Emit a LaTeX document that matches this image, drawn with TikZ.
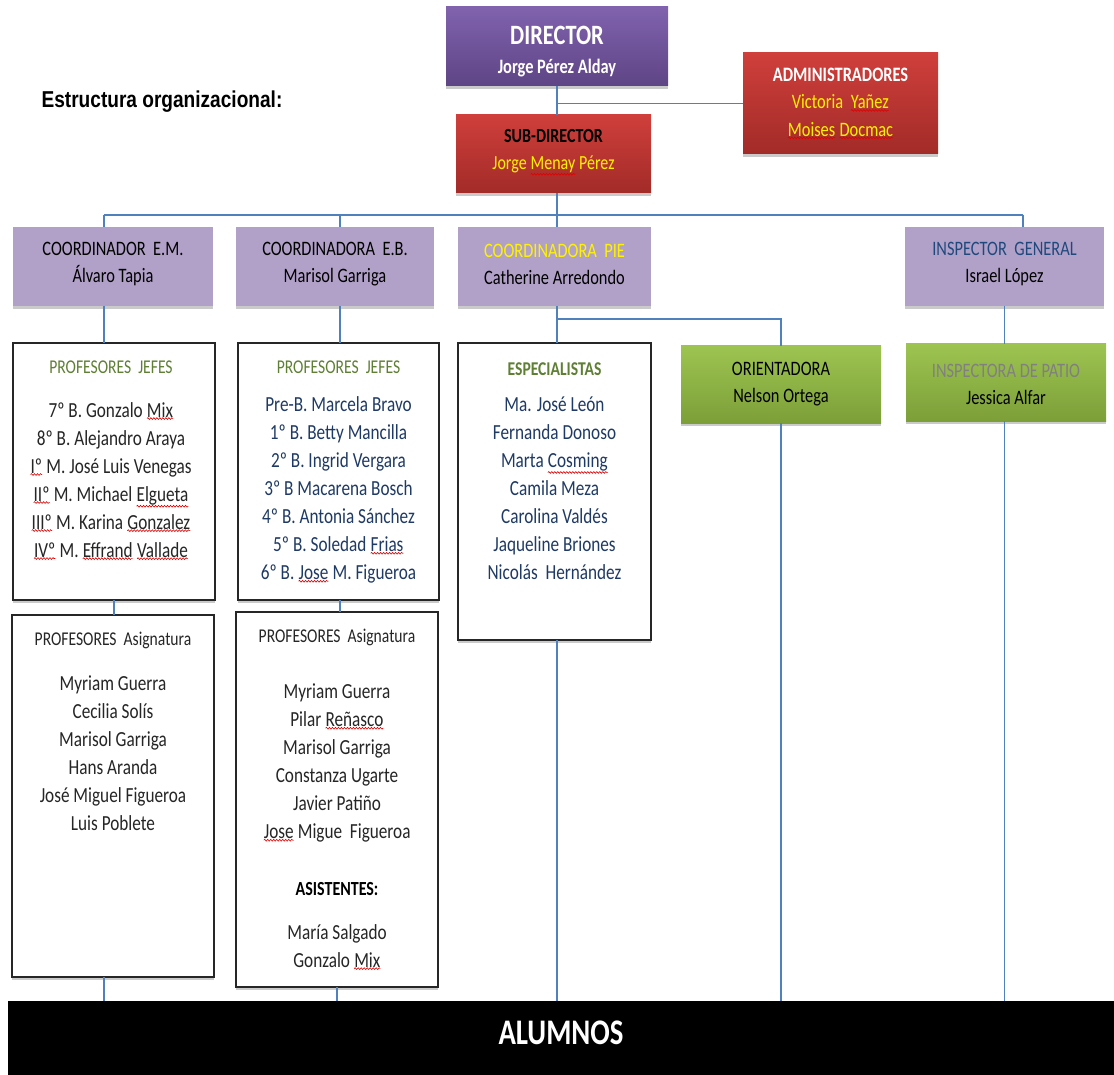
\documentclass[tikz,border=0pt]{standalone}
\usepackage{fontspec}
\setmainfont{Carlito}[FakeStretch=0.8]
\newfontfamily\arialc{Liberation Sans}[FakeStretch=0.83]
\usetikzlibrary{shadows,decorations.pathmorphing}
\definecolor{lineblue}{HTML}{4F81BD}
\definecolor{purpT}{HTML}{8062AE}
\definecolor{purpB}{HTML}{5E4585}
\definecolor{redT}{HTML}{CF3F3B}
\definecolor{redB}{HTML}{A22B28}
\definecolor{lav}{HTML}{B1A1C8}
\definecolor{grnT}{HTML}{9DC451}
\definecolor{grnB}{HTML}{7C9F38}
\definecolor{olive}{HTML}{5F7F34}
\definecolor{navy}{HTML}{1F3A64}
\definecolor{insblue}{HTML}{1F497D}
\definecolor{patgray}{HTML}{808080}
\definecolor{yel}{HTML}{FFF200}
\definecolor{squig}{HTML}{E00000}
\newcommand\sq[1]{\tikz[baseline=(sqw.base)]{\node[inner sep=0pt,outer sep=0pt] (sqw) {#1};
  \draw[squig,line width=0.6pt,decorate,decoration={snake,amplitude=0.9pt,segment length=3pt}] ([yshift=-1.5pt]sqw.south west) -- ([yshift=-1.5pt]sqw.south east);}}
\begin{document}
\begin{tikzpicture}[x=1pt,y=-1pt,
  conn/.style={draw=lineblue,line width=1.1pt},
  shade/.style={drop shadow={shadow xshift=0pt,shadow yshift=-3pt,opacity=0.35,fill=black!60}},
  cbox/.style={rectangle,inner sep=0pt,outer sep=0pt,shade},
  purplebox/.style={cbox,top color=purpT,bottom color=purpB},
  redbox/.style={cbox,top color=redT,bottom color=redB},
  lavbox/.style={cbox,fill=lav},
  greenbox/.style={cbox,top color=grnT,bottom color=grnB},
  listbox/.style={rectangle,inner sep=0pt,outer sep=0pt,draw=black!85,line width=1.3pt,fill=white,shade},
  txt/.style={align=center,inner sep=0pt,font=\fontsize{20.5}{27}\selectfont},
  ltxt/.style={align=center,inner sep=0pt,font=\fontsize{21.5}{28}\selectfont},
  ttl/.style={align=center,inner sep=0pt,font=\fontsize{19.5}{24}\selectfont}
]
\useasboundingbox (0,0) rectangle (1114,1075);

% ---- boxes ----
\node[purplebox,minimum width=222,minimum height=79] (dir) at (557,46.5) {};
\node[redbox,minimum width=195,minimum height=101] (adm) at (840.5,103.5) {};
\node[redbox,minimum width=195,minimum height=78] (sub) at (553.5,154) {};
\node[lavbox,minimum width=200,minimum height=79] (cem) at (113,266.5) {};
\node[lavbox,minimum width=198,minimum height=79] (ceb) at (335,266.5) {};
\node[lavbox,minimum width=193,minimum height=79] (cpie) at (554.5,266.5) {};
\node[lavbox,minimum width=199,minimum height=79] (insp) at (1004.5,266.5) {};
\node[listbox,minimum width=202,minimum height=257] (pjem) at (114,471.5) {};
\node[listbox,minimum width=201,minimum height=257] (pjeb) at (338.5,471.5) {};
\node[listbox,minimum width=202,minimum height=362] (paem) at (113,796) {};
\node[listbox,minimum width=202,minimum height=375] (paeb) at (337,799.5) {};
\node[listbox,minimum width=193,minimum height=297] (esp) at (554.5,491.5) {};
\node[greenbox,minimum width=200,minimum height=77] (ori) at (781,384.5) {};
\node[greenbox,minimum width=200,minimum height=77] (pat) at (1006,382.5) {};
\node[rectangle,inner sep=0pt,outer sep=0pt,fill=black,minimum width=1106,minimum height=74] (alum) at (561,1038) {};

% ---- connectors ----
\coordinate (busL) at (104,215);
\coordinate (busR) at (1023,215);
\coordinate (bEB) at (340,215);
\coordinate (br) at (556,319);
\draw[conn] (dir.south) -- (dir.south |- sub.north);
\draw[conn] (adm.west) -- (adm.west -| dir.south);
\draw[conn] (dir.south |- sub.south) -- (dir.south |- busL);
\draw[conn] (busL) -- (busR);
\draw[conn] (busL) -- (busL |- cem.north);
\draw[conn] (bEB) -- (bEB |- ceb.north);
\draw[conn] (dir.south |- busL) -- (dir.south |- cpie.north);
\draw[conn] (busR) -- (busR |- insp.north);
\draw[conn] (busL |- cem.south) -- (busL |- pjem.north);
\draw[conn] (bEB |- ceb.south) -- (bEB |- pjeb.north);
\draw[conn] (dir.south |- cpie.south) -- (dir.south |- esp.north);
\draw[conn] (br) -| (ori.north);
\draw[conn] (insp.south) -- (insp.south |- pat.north);
\draw[conn] (pjem.south) -- (pjem.south |- paem.north);
\draw[conn] (bEB |- pjeb.south) -- (bEB |- paeb.north);
\draw[conn] (busL |- paem.south) -- (busL |- alum.north);
\draw[conn] (paeb.south) -- (paeb.south |- alum.north);
\draw[conn] (dir.south |- esp.south) -- (dir.south |- alum.north);
\draw[conn] (ori.south) -- (ori.south |- alum.north);
\draw[conn] (insp.south |- pat.south) -- (insp.south |- alum.north);

% ---- texts ----
\node[inner sep=0pt,font=\arialc\bfseries\fontsize{23}{26}\selectfont] (title) at (162,102) {Estructura organizacional:};

\node[inner sep=0pt,text=white,font=\bfseries\fontsize{28}{30}\selectfont] (dirA) at (557,35) {DIRECTOR};
\node[inner sep=0pt,text=white,font=\bfseries\fontsize{20.5}{24}\selectfont] (dirB) at (557,68) {Jorge Pérez Alday};

\node[txt,font=\bfseries\fontsize{20}{27}\selectfont] (subT) at (553.5,152.5) {SUB-DIRECTOR\\\mdseries\color{yel}Jorge \sq{Menay} Pérez};
\node[txt,text=yel,font=\fontsize{20.5}{27.5}\selectfont] (admT) at (840.5,103.5) {{\bfseries\color{white}ADMINISTRADORES}\\Victoria\ \ \sq{Yañez}\\\sq{Moises} \sq{Docmac}};

\node[txt] (cemT) at (113,264.5) {COORDINADOR\ \ E.M.\\Álvaro Tapia};
\node[txt] (cebT) at (335,264.5) {COORDINADORA\ \ E.B.\\Marisol Garriga};
\node[txt] (cpieT) at (554.5,264.5) {\textcolor{yellow}{COORDINADORA\ \ PIE}\\Catherine Arredondo};
\node[txt] (inspT) at (1004.5,264.5) {\textcolor{insblue}{INSPECTOR\ \ GENERAL}\\Israel López};
\node[txt] (oriT) at (781,384.5) {ORIENTADORA\\Nelson Ortega};
\node[txt] (patT) at (1006,384.5) {\textcolor{patgray}{INSPECTORA DE PATIO}\\Jessica Alfar};

% lists
\node[ttl,text=olive] (pjemH) at (111,367) {PROFESORES\ \ JEFES};
\node[ltxt,text=black!85] (pjemL) at (111,481) {7º B. Gonzalo \sq{Mix}\\8º B. Alejandro Araya\\\sq{Iº} M. José Luis Venegas\\\sq{IIº} M. Michael \sq{Elgueta}\\\sq{IIIº} M. Karina \sq{Gonzalez}\\\sq{IVº} M. \sq{Effrand} \sq{Vallade}};

\node[ttl,text=olive] (pjebH) at (338.5,367) {PROFESORES\ \ JEFES};
\node[ltxt,text=navy] (pjebL) at (338.5,490) {Pre-B. Marcela Bravo\\1º B. Betty Mancilla\\2º B. Ingrid Vergara\\3º B Macarena Bosch\\4º B. Antonia Sánchez\\5º B. Soledad \sq{Frias}\\6º B. \sq{Jose} M. Figueroa};

\node[ttl,text=olive,font=\bfseries\fontsize{19.5}{24}\selectfont] (espH) at (554.5,369) {ESPECIALISTAS};
\node[ltxt,text=navy] (espL) at (554.5,488) {Ma. José León\\Fernanda Donoso\\Marta \sq{Cosming}\\Camila Meza\\Carolina Valdés\\Jaqueline Briones\\Nicolás\ \ Hernández};

\node[ttl,text=black!85] (paemH) at (113,640) {PROFESORES\ \ Asignatura};
\node[ltxt,text=black!85] (paemL) at (113,753) {Myriam Guerra\\Cecilia Solís\\Marisol Garriga\\Hans Aranda\\José Miguel Figueroa\\Luis Poblete};

\node[ttl,text=black!85] (paebH) at (337,637) {PROFESORES\ \ Asignatura};
\node[ltxt,text=black!85] (paebL) at (337,763) {Myriam Guerra\\Pilar \sq{Reñasco}\\Marisol Garriga\\Constanza Ugarte\\Javier Patiño\\\sq{Jose} Migue\ \ Figueroa};
\node[ttl,text=black,font=\bfseries\fontsize{20}{24}\selectfont] (asisH) at (337,889) {ASISTENTES:};
\node[ltxt,text=black!85] (asisL) at (337,947) {María Salgado\\Gonzalo \sq{Mix}};

\node[inner sep=0pt,text=white,font=\bfseries\fontsize{36}{40}\selectfont] (alumT) at (561,1033) {ALUMNOS};
\end{tikzpicture}
\end{document}
